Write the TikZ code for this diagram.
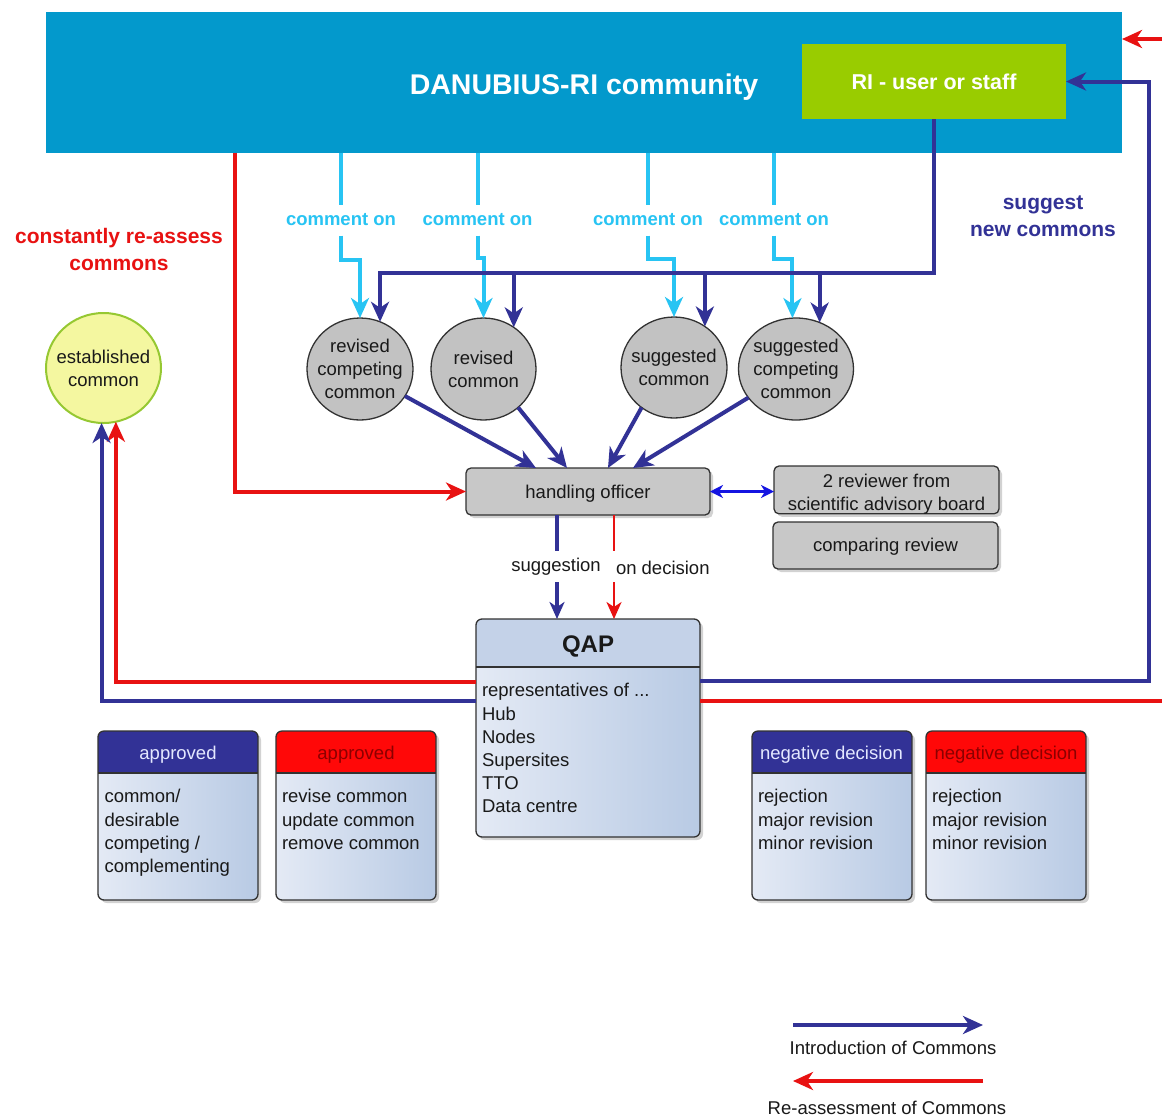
\documentclass[tikz,border=0pt]{standalone}
\usepackage{fontspec}
\setmainfont{Liberation Sans}
\usetikzlibrary{arrows.meta,shapes.geometric,shadows,calc}
\definecolor{navy}{RGB}{50,50,150}
\definecolor{cyanl}{RGB}{40,196,243}
\definecolor{redl}{RGB}{232,18,18}
\definecolor{commblue}{RGB}{3,153,204}
\definecolor{rigreen}{RGB}{153,204,0}
\definecolor{grayfill}{RGB}{194,194,194}
\definecolor{boxgray}{RGB}{200,200,200}
\definecolor{edgegray}{RGB}{50,50,50}
\definecolor{estfill}{RGB}{244,247,160}
\definecolor{estedge}{RGB}{150,200,50}
\definecolor{qapA}{RGB}{228,234,245}
\definecolor{qapB}{RGB}{184,202,228}
\definecolor{qaphead}{RGB}{196,210,232}
\definecolor{darkred}{RGB}{140,0,0}
\definecolor{hdrred}{RGB}{255,8,8}
\definecolor{headtext}{RGB}{228,232,255}
\definecolor{dblblue}{RGB}{20,20,225}
\definecolor{txt}{RGB}{25,25,25}
\begin{document}
\begin{tikzpicture}[x=1pt,y=-1pt,
  every node/.style={inner sep=0pt, outer sep=0pt, text=txt},
  ft/.style={font=\fontsize{18.5}{23.2}\selectfont},
  tip/.style={-{Stealth[length=20pt,width=18pt,inset=6pt]}},
  navyline/.style={draw=navy, line width=4pt},
  navyarr/.style={navyline, tip},
  cyanline/.style={draw=cyanl, line width=4pt},
  cyanarr/.style={cyanline, tip},
  redline/.style={draw=redl, line width=4pt},
  redarr/.style={redline, tip},
  circ/.style={ellipse, draw=edgegray, line width=1.3pt, fill=grayfill},
  ctext/.style={align=center, font=\fontsize{18.5}{23}\selectfont},
  shad/.style={drop shadow={shadow xshift=3pt, shadow yshift=-3pt, opacity=0.35}},
  gbox/.style={draw=edgegray, line width=1.3pt, fill=boxgray, rounded corners=5pt, anchor=north west, shad, ft},
  cbox/.style={left color=qapA, right color=qapB, rounded corners=6pt, anchor=north west, shad},
  edge/.style={draw=edgegray, line width=1.3pt},
  cmt/.style={text=cyanl, font=\bfseries\fontsize{18.5}{20}\selectfont, minimum height=31pt},
  smallnavy/.style={draw=navy, line width=3.5pt},
  smallred/.style={draw=redl, line width=2.5pt},
  smalltip/.style={-{Stealth[length=17pt,width=15pt,inset=5pt]}}
]
\useasboundingbox (0,0) rectangle (1162,1117);
\fill[white] (0,0) rectangle (1162,1117);

% top community box
\node[fill=commblue, minimum width=1076pt, minimum height=141pt, anchor=north west,
  text height=24pt, text depth=0pt,
  text=white, font=\bfseries\fontsize{28.5}{30}\selectfont] (comm) at (46,11.5) {DANUBIUS-RI community};
\node[fill=rigreen, minimum width=264pt, minimum height=75pt, anchor=north west,
  text=white, font=\bfseries\fontsize{21.5}{24}\selectfont] (ri) at (802,44) {RI - user or staff};

% side texts
\node[text=redl, font=\bfseries\fontsize{21}{27}\selectfont, align=center] (reassess) at (119,249.5) {constantly re-assess\\commons};
\node[text=navy, font=\bfseries\fontsize{21}{27}\selectfont, align=center] (suggest) at (1043,216.5) {suggest\\new commons};

% comment labels
\node[cmt] (cm1) at (341,220) {comment on};
\node[cmt] (cm2) at (477.5,220) {comment on};
\node[cmt] (cm3) at (648,220) {comment on};
\node[cmt] (cm4) at (774,220) {comment on};

% circles
\node[circ, minimum width=106pt, minimum height=102pt, label={[ctext]center:{revised\\competing\\common}}] (c1) at (360,369) {};
\node[circ, minimum width=105pt, minimum height=102pt, label={[ctext]center:{revised\\common}}] (c2) at (483.5,369) {};
\node[circ, minimum width=106pt, minimum height=101pt, label={[ctext]center:{suggested\\common}}] (c3) at (674,367.5) {};
\node[circ, minimum width=115pt, minimum height=102pt, label={[ctext]center:{suggested\\competing\\common}}] (c4) at (796,369) {};
\node[ellipse, draw=estedge, line width=2pt, fill=estfill, minimum width=115pt, minimum height=110pt,
  label={[ctext]center:{established\\common}}] (est) at (103.5,368) {};

% handling officer and reviewers
\node[gbox, minimum width=244pt, minimum height=47pt] (ho) at (466,468) {\rule{0pt}{17pt}handling officer};
\node[gbox, minimum width=225pt, minimum height=47pt, align=center, font=\fontsize{18.5}{23}\selectfont] (rev) at (774,466) {\rule{0pt}{21pt}2 reviewer from\\scientific advisory board};
\node[gbox, minimum width=225pt, minimum height=47pt] (cmp) at (773,522) {\rule{0pt}{16pt}comparing review};

% suggestion labels
\node[ft, minimum height=31pt] (sug) at (556,566.5) {suggestion};
\node[ft, anchor=west] (ondec) at (616,567.5) {on decision};
\coordinate (bx) at (557,0);
\coordinate (rx) at (614,0);

% QAP
\node[cbox, minimum width=224pt, minimum height=218pt] (qap) at (476,619) {};
\begin{scope}
  \clip[rounded corners=6pt] (qap.north west) rectangle (qap.south east);
  \fill[qaphead] (qap.north west) rectangle (qap.east |- 0,667);
\end{scope}
\draw[edge] (qap.west |- 0,667) -- (qap.east |- 0,667);
\draw[edge, rounded corners=6pt] (qap.north west) rectangle (qap.south east);
\node[font=\bfseries\fontsize{24}{26}\selectfont, anchor=base] (qapt) at (588,652) {QAP};
\node[ft, align=left, anchor=north west] (qapb) at (482,683.5) {representatives of ...\\Hub\\Nodes\\Supersites\\TTO\\Data centre};

% bottom boxes
\node[cbox, minimum width=160pt, minimum height=169pt] (ap1) at (98,731) {};
\node[cbox, minimum width=160pt, minimum height=169pt] (ap2) at (276,731) {};
\node[cbox, minimum width=160pt, minimum height=169pt] (nd1) at (752,731) {};
\node[cbox, minimum width=160pt, minimum height=169pt] (nd2) at (926,731) {};
\foreach \b/\c in {ap1/navy, ap2/hdrred, nd1/navy, nd2/hdrred}{
  \begin{scope}
    \clip[rounded corners=6pt] (\b.north west) rectangle (\b.south east);
    \fill[\c] (\b.north west) rectangle (\b.east |- 0,773);
  \end{scope}
  \draw[edge] (\b.west |- 0,773) -- (\b.east |- 0,773);
  \draw[edge, rounded corners=6pt] (\b.north west) rectangle (\b.south east);
}
\node[ft, anchor=base, text=headtext] (ap1h) at (178,759) {approved};
\node[ft, anchor=base, text=darkred] (ap2h) at (356,759) {approved};
\node[ft, anchor=base, text=headtext] (nd1h) at (831.5,759) {negative decision};
\node[ft, anchor=base, text=darkred] (nd2h) at (1006,759) {negative decision};
\node[ft, align=left, anchor=north west] (ap1b) at (104.5,789.5) {common/\\desirable\\competing /\\complementing};
\node[ft, align=left, anchor=north west] (ap2b) at (282,789.5) {revise common\\update common\\remove common};
\node[ft, align=left, anchor=north west] (nd1b) at (758,789.5) {rejection\\major revision\\minor revision};
\node[ft, align=left, anchor=north west] (nd2b) at (932,789.5) {rejection\\major revision\\minor revision};

% legend
\coordinate (l1a) at (793,1025);
\coordinate (l1b) at (983,1025);
\coordinate (l2a) at (983,1081);
\coordinate (l2b) at (793,1081);
\draw[navyarr] (l1a) -- (l1b);
\draw[redarr] (l2a) -- (l2b);
\node[ft, anchor=base] (lg1) at (893,1054) {Introduction of Commons};
\node[ft, anchor=base] (lg2) at (887,1114) {Re-assessment of Commons};

% ---------------- connectors ----------------
% comment on (cyan)
\draw[cyanline] (comm.south -| cm1) -- (cm1.north);
\draw[cyanline] (comm.south -| cm2) -- (cm2.north);
\draw[cyanline] (comm.south -| cm3) -- (cm3.north);
\draw[cyanline] (comm.south -| cm4) -- (cm4.north);
\draw[cyanarr] (cm1.south) -- ++(0,24) -| (c1.north);
\draw[cyanarr] (cm2.south) -- ++(0,22) -| (c2.north);
\draw[cyanarr] (cm3.south) -- ++(0,23) -| (c3.north);
\draw[cyanarr] (cm4.south) -- ++(0,23) -| (c4.94);

% suggest new commons (navy bus)
\coordinate (bus) at (0,273);
\draw[navyarr] (ri.south) |- (bus -| c1.67) -- (c1.67);
\draw[navyarr] (bus -| c2.54) -- (c2.54);
\draw[navyarr] (bus -| c3.53) -- (c3.53);
\draw[navyarr] (bus -| c4.63) -- (c4.63);

% circles to handling officer
\draw[navyarr] (c1.-31) -- ([xshift=70pt]ho.north west);
\draw[navyarr] (c2.-48) -- ([xshift=101pt]ho.north west);
\draw[navyarr] (c3.-129) -- ([xshift=142pt]ho.north west);
\draw[navyarr] (c4.-149) -- ([xshift=167pt]ho.north west);

% re-assess (red) to handling officer
\draw[redarr] ([xshift=189pt]comm.south west) |- (ho.west);

% handling officer <-> reviewers
\draw[dblblue, line width=2.5pt, {Stealth[length=13pt,width=13pt,inset=4pt]}-{Stealth[length=13pt,width=13pt,inset=4pt]}] (ho.east) -- (rev.west |- ho.east);

% suggestion / on decision
\draw[smallnavy] (ho.south -| bx) -- (sug.north -| bx);
\draw[smallnavy, smalltip] (sug.south -| bx) -- (qap.north -| bx);
\draw[smallred] (ho.south -| rx) -- (sug.north -| rx);
\draw[smallred, smalltip] (sug.south -| rx) -- (qap.north -| rx);

% QAP to established common
\draw[redarr] ([yshift=-63pt]qap.north west) -| (est.283);
\draw[navyarr] ([yshift=-82pt]qap.north west) -| (est.268);

% QAP back to RI user (navy) and re-assessment loop (red)
\draw[navyarr] ([yshift=-62pt]qap.north east) -| ([xshift=83pt]ri.east) -- (ri.east);
\coordinate (redout) at (1175,701);
\coordinate (redin) at (1175,39);
\draw[redline] ([yshift=-82pt]qap.north east) -- (redout);
\draw[redarr] (redin) -- (comm.east |- redin);
\end{tikzpicture}
\end{document}
